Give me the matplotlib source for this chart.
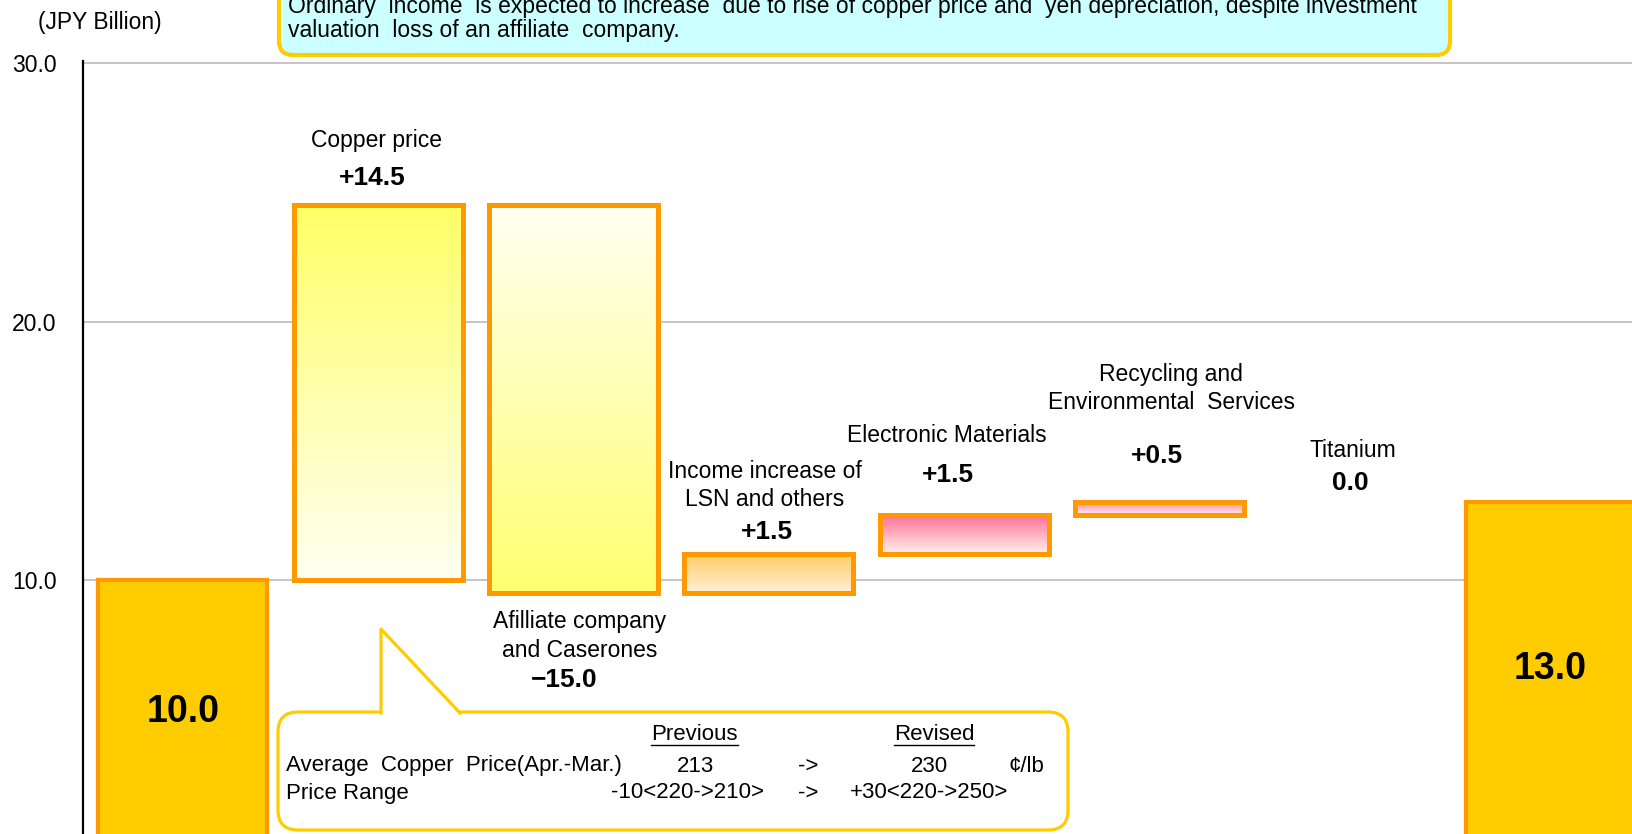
import matplotlib
matplotlib.use("Agg")
import matplotlib.pyplot as plt
import numpy as np
from matplotlib import patches, transforms
from matplotlib.lines import Line2D
from matplotlib.colors import LinearSegmentedColormap

plt.rcParams['font.family'] = ['Liberation Sans', 'DejaVu Sans']

# ---- data ----
start_label = "10.0"
start_value = 10.0
end_value = 13.0
step_names = ["Copper price",
              "Afilliate company\nand Caserones",
              "Income increase of\nLSN and others",
              "Electronic Materials",
              "Recycling and\nEnvironmental  Services",
              "Titanium"]
step_deltas = [14.5, -15.0, 1.5, 1.5, 0.5, 0.0]
y_ticks = [10.0, 20.0, 30.0]
unit_label = "(JPY Billion)"
note_lines = ["Ordinary  income  is expected to increase  due to rise of copper price and  yen depreciation, despite investment",
              "valuation  loss of an affiliate  company."]
price_header = ["Previous", "Revised"]
price_rows = [["Average  Copper  Price(Apr.-Mar.)", "213", "->", "230", "\u00a2/lb"],
              ["Price Range", "-10<220->210>", "->", "+30<220->250>", ""]]

# ---- styling / layout ----
total_face = "#FFCC00"
bar_edge = "#FF9900"
gradients = [("#FFFF66", "#FFFFF2"),   # top, bottom
             ("#FFFFF2", "#FFFF70"),
             ("#FFCC66", "#FFEFD5"),
             ("#FF7098", "#FFF2EC"),
             ("#FF8CA8", "#FFF0F0"),
             ("#FFFFFF", "#FFFFFF")]
# (x offset for name, x offset for value, name y, value y) in data units
label_layout = [(-0.01, -0.03, 27.0, 25.56),
                (0.03, -0.045, 7.83, 6.13),
                (-0.02, -0.01, 13.66, 11.87),
                (-0.09, -0.08, 15.61, 14.06),
                (0.06, -0.01, 17.42, 14.8),
                (-0.01, -0.02, 15.03, 13.75)]
bar_w = 0.865
fs = 16.5

W, H = 1632, 834
fig = plt.figure(figsize=(W / 100, H / 100), dpi=100)
px = transforms.Affine2D().scale(1, -1).translate(0, H)  # top-left pixel coords

ax = fig.add_axes([0.051, -0.0052, 0.949, 0.9324])

# totals
ax.bar([0, len(step_deltas) + 1], [start_value, end_value], width=bar_w,
       color=total_face, edgecolor=bar_edge, linewidth=3, zorder=3)

# floating steps
level = start_value
for i, d in enumerate(step_deltas):
    x = i + 1
    bottom = min(level, level + d)
    top = max(level, level + d)
    if d != 0:
        bc = ax.bar(x, top - bottom, bottom=bottom, width=bar_w,
                    facecolor="none", edgecolor=bar_edge, linewidth=3.6,
                    zorder=4)
        rect = bc.patches[0]
        cmap = LinearSegmentedColormap.from_list("g%d" % i,
                                                 [gradients[i][1], gradients[i][0]])
        grad = np.linspace(0, 1, 256).reshape(-1, 1)
        im = ax.imshow(grad, extent=(x - bar_w / 2, x + bar_w / 2, bottom, top),
                       origin="lower", aspect="auto", cmap=cmap, zorder=3)
        im.set_clip_path(rect)
    dxn, dxv, yn, yv = label_layout[i]
    ax.text(x + dxn, yn, step_names[i], ha="center", va="center",
            fontsize=fs, linespacing=1.3, zorder=5)
    val = "0.0" if d == 0 else ("+%.1f" % d if d > 0 else "\u2212%.1f" % abs(d))
    ax.text(x + dxv, yv, val, ha="center", va="center", fontsize=19,
            fontweight="bold", zorder=5)
    level += d

ax.text(0, start_value / 2 - 0.1, start_label, ha="center", va="center",
        fontsize=27, fontweight="bold", zorder=5)
ax.text(len(step_deltas) + 1, end_value / 2 + 0.05, "%.1f" % end_value,
        ha="center", va="center", fontsize=27, fontweight="bold", zorder=5)

ax.set_xlim(-0.51, 7.42)
ax.set_ylim(0, 30.1)
ax.set_yticks(y_ticks)
ax.set_yticklabels(["%.1f" % t for t in y_ticks], fontsize=fs)
ax.set_xticks([])
ax.tick_params(axis="y", length=0, pad=19)
ax.yaxis.grid(True, color="#C0C0C0", linewidth=1.3)
ax.set_axisbelow(True)
for s in ["top", "right", "bottom"]:
    ax.spines[s].set_visible(False)
ax.spines["left"].set_linewidth(1.6)
ax.spines["left"].set_color("black")

fig.text(100, 22, unit_label, transform=px, ha="center", va="center", fontsize=fs)

# top comment box (its first line runs off the top edge, as on the slide)
top_box = patches.FancyBboxPatch((279, -40), 1450 - 279, 95,
                                 boxstyle="round,pad=0,rounding_size=14",
                                 facecolor="#CCFFFF", edgecolor="#FFCC00",
                                 linewidth=3, transform=px)
fig.add_artist(top_box)
fig.text(288, 12.7, note_lines[0], transform=px, ha="left", va="baseline", fontsize=fs)
fig.text(288, 37.5, note_lines[1], transform=px, ha="left", va="baseline", fontsize=fs)

# copper price callout
gold = "#FFCC00"
callout = patches.FancyBboxPatch((278, 712), 1068 - 278, 118,
                                 boxstyle="round,pad=0,rounding_size=20",
                                 facecolor="white", edgecolor=gold,
                                 linewidth=2.3, transform=px)
fig.add_artist(callout)
fig.add_artist(patches.Polygon([(381, 715), (381, 629), (460, 715)], closed=True,
                               facecolor="white", edgecolor="none", transform=px))
fig.add_artist(Line2D([381, 381, 460], [713, 629, 713], color=gold,
                      linewidth=2.3, transform=px))

box_fs = 16
hdr = []
for s, cx in zip(price_header, [694.6, 934]):
    hdr.append(fig.text(cx, 735, s, transform=px, ha="center", va="center", fontsize=box_fs))
col_x = [695.5, 808, 929.5, 1026]
for r, yy in zip(price_rows, [766, 793]):
    fig.text(286, yy, r[0], transform=px, ha="left", va="center", fontsize=box_fs)
    cx = [687, 808, 929.5, 1026] if r[0] == "Price Range" else col_x
    for s, x in zip(r[1:], cx):
        if s:
            fig.text(x, yy, s, transform=px, ha="center", va="center", fontsize=box_fs)

fig.canvas.draw()
rend = fig.canvas.get_renderer()
for t in hdr:
    bb = t.get_window_extent(rend)
    fig.add_artist(Line2D([bb.x0, bb.x1], [bb.y0 + 1, bb.y0 + 1], color="black",
                          linewidth=1.0, transform=transforms.IdentityTransform()))

fig.savefig("out.png", dpi=100)
